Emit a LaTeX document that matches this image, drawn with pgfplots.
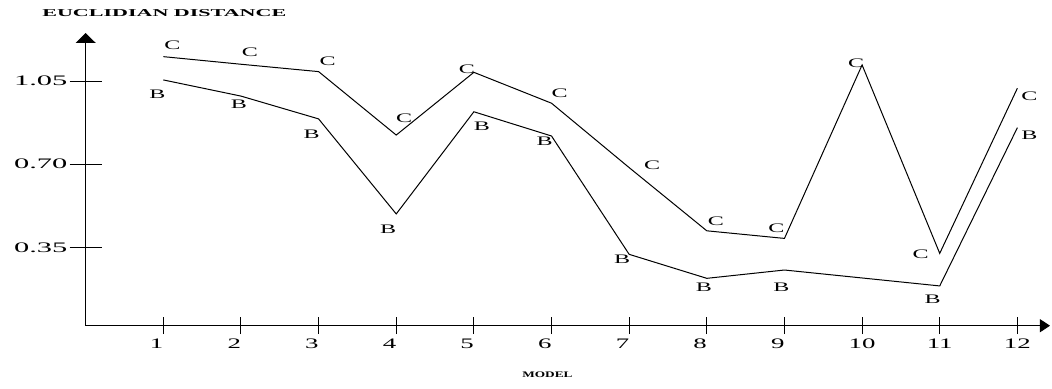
\documentclass[border=0pt]{standalone}
\usepackage{pgfplots}
\pgfplotsset{compat=1.18}
\usepackage{pgfplotstable}
\usepackage{graphicx}
\usepackage{fontspec}
\setmainfont{Liberation Serif}
\usetikzlibrary{arrows.meta}

\pgfplotstableread{
x y dx dy lab
1 1.153 9 11 C
2 1.121 9 12 C
3 1.090 9 10 C
4 0.823 8 17 C
5 1.087 -7 3 C
6 0.957 8 10 C
7 0.686 23 2 C
8 0.420 9 10 C
9 0.388 -8 10 C
10 1.118 -6 2 C
11 0.325 -19 -1 C
12 1.020 12 -8 C
}\Cdata

\pgfplotstableread{
x y dx dy lab
1 1.055 -6 -14 B
2 0.987 -2 -8 B
3 0.891 -7 -15 B
4 0.491 -8 -15 B
5 0.921 8 -14 B
6 0.819 -7 -5 B
7 0.321 -7 -5 B
8 0.220 -3 -9 B
9 0.255 -3 -17 B
11 0.188 -7 -13 B
12 0.854 12 -8 B
}\Bdata

\newcommand{\sx}[1]{\scalebox{1.85}[1]{#1}}
\newcommand{\sy}[1]{\scalebox{2.1}[1]{#1}}

\begin{document}
\begin{tikzpicture}
\begin{axis}[
  x=77.64pt, y=237.6pt,
  xmin=0, xmax=12.42, ymin=0.0206, ymax=1.2525,
  axis lines=left,
  clip=false,
  x axis line style={line width=1pt, -{Triangle[width=13pt,length=10pt]}},
  y axis line style={line width=1pt, -{Triangle[width=20pt,length=10pt]}},
  tick align=center,
  xtick={1,...,12},
  xticklabels={\sx{1\phantom{0}},\sx{2\phantom{0}},\sx{3\phantom{0}},\sx{4\phantom{0}},\sx{5\phantom{0}},\sx{6\phantom{0}},\sx{7\phantom{0}},\sx{8\phantom{0}},\sx{9\phantom{0}},\sx{10},\sx{11},\sx{12}},
  ytick={0.35,0.70,1.05},
  yticklabels={\sy{0.35},\sy{0.70},\sy{1.05}},
  xtick style={/pgfplots/major tick length=17pt, line width=1pt, black},
  ytick style={/pgfplots/major tick length=32pt, line width=1pt, black},
  every tick label/.append style={font=\fontsize{14.5}{16}\selectfont},
  xticklabel style={inner sep=0pt, anchor=north, yshift=-11pt},
  yticklabel style={inner sep=0pt, anchor=east, xshift=-16pt},
  xlabel={\scalebox{1.56}[1]{\bfseries MODEL}},
  ylabel={\scalebox{2.1}[1]{\bfseries EUCLIDIAN DISTANCE}},
  every axis x label/.style={at={(axis cs:5.947,-0.187)}, anchor=center, inner sep=0pt, font=\fontsize{8.5}{10}\selectfont},
  every axis y label/.style={at={(axis cs:1.013,1.335)}, anchor=center, inner sep=0pt, font=\fontsize{10.5}{12}\selectfont},
]
\addplot[black, line width=1pt, mark=none] table[x=x,y=y]{\Cdata};
\addplot[black, line width=1pt, mark=none] table[x=x,y=y]{\Bdata};
\addplot[draw=none, mark=none, point meta=explicit symbolic,
  nodes near coords={\scalebox{1.85}[1]{\pgfplotspointmeta}},
  visualization depends on={\thisrow{dx}\as\lblx},
  visualization depends on={\thisrow{dy}\as\lbly},
  every node near coord/.append style={anchor=center, inner sep=0pt, xshift=\lblx, yshift=\lbly, font=\fontsize{13}{15}\selectfont}]
  table[x=x,y=y,meta=lab]{\Cdata};
\addplot[draw=none, mark=none, point meta=explicit symbolic,
  nodes near coords={\scalebox{1.85}[1]{\pgfplotspointmeta}},
  visualization depends on={\thisrow{dx}\as\lblx},
  visualization depends on={\thisrow{dy}\as\lbly},
  every node near coord/.append style={anchor=center, inner sep=0pt, xshift=\lblx, yshift=\lbly, font=\fontsize{13}{15}\selectfont}]
  table[x=x,y=y,meta=lab]{\Bdata};
\path (axis cs:-1.1033,-0.2416) rectangle (axis cs:12.446,1.3914);
\end{axis}
\end{tikzpicture}
\end{document}
